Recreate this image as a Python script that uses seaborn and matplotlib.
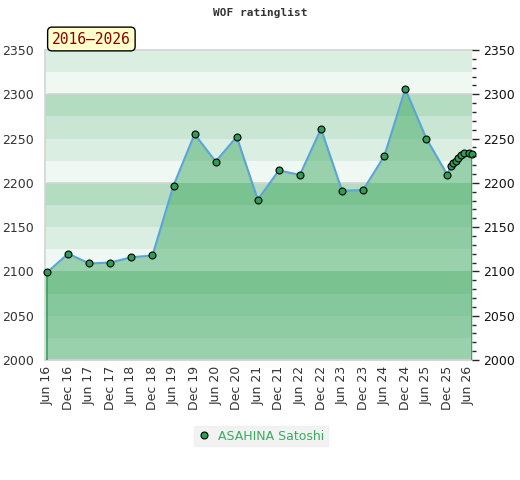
import matplotlib
matplotlib.use("Agg")
import matplotlib.pyplot as plt
import seaborn as sns
import pandas as pd
from matplotlib.lines import Line2D
from matplotlib.ticker import MultipleLocator

# months counted from Jun 2016
months = [0, 6, 12, 18, 24, 30, 36, 42, 48, 54, 60, 66, 72, 78, 84, 90, 96, 102, 108, 114,
          115, 115.6, 116.4, 117.1, 117.9, 118.7, 120.2, 121]
ratings = [2099, 2120, 2109, 2110, 2116, 2118, 2197, 2255, 2224, 2252, 2181, 2214, 2209, 2261,
           2191, 2192, 2230, 2306, 2250, 2209,
           2219, 2222, 2225, 2228, 2231, 2234, 2234, 2233]
tick_pos = list(range(0, 121, 6))
tick_labels = [("Jun " if i % 2 == 0 else "Dec ") + str(16 + i // 2) for i in range(len(tick_pos))]
player = "ASAHINA Satoshi"
period = "2016\u20132026"

df = pd.DataFrame({"month": months, "rating": ratings})

sns.set_style("white")
plt.rcParams['font.family'] = ['DejaVu Sans']

fig = plt.figure(figsize=(5.2, 4.8), dpi=100)
ax = fig.add_axes([45 / 520, 1 - 360 / 480, 427 / 520, 310 / 480])

band_colors = ["#eff8f2", "#dbeee2", "#c8e6d3", "#b3dcc0"]
for lo in range(2000, 2350, 25):
    ax.axhspan(lo, lo + 25, color=band_colors[(lo % 100) // 25], lw=0, zorder=0)

# grey lines only show above the rating curve
above = ax.fill_between(df["month"], df["rating"], 2350, color="none", lw=0)
for lv in range(2100, 2350, 100):
    gl = ax.axhline(lv, color="#d4d4d4", lw=1.2, zorder=1)
    gl.set_clip_path(above.get_paths()[0], transform=ax.transData)

ax.fill_between(df["month"], df["rating"], 2000, color="#3aa75d", alpha=0.47, lw=0, zorder=2)
ax.vlines([months[0], months[-1]], 2000, [ratings[0], ratings[-1]], color="#2e9e56", lw=1.2, zorder=3)
sns.lineplot(data=df, x="month", y="rating", ax=ax, color="#5ba3d9", lw=1.5, zorder=4,
             marker="o", markersize=5, markerfacecolor="#2e9e56", markeredgecolor="black",
             markeredgewidth=0.8, clip_on=False)

ax.set_xlim(-0.6, 121)
ax.set_ylim(2000, 2350)
ax.set_xlabel("")
ax.set_ylabel("")
ax.set_xticks(tick_pos)
ax.set_xticklabels(tick_labels, rotation=90, fontsize=9, color="#333333")
ax.yaxis.set_major_locator(MultipleLocator(50))
ax.tick_params(axis="y", length=0, labelsize=9, labelcolor="#333333", pad=8)
ax.tick_params(axis="x", length=0, pad=4)
for s in ["left", "top", "bottom"]:
    ax.spines[s].set_color("#d4d4d4")
    ax.spines[s].set_linewidth(1.2)
ax.spines["right"].set_visible(False)

ax2 = ax.twinx()
ax2.set_ylim(2000, 2350)
ax2.yaxis.set_major_locator(MultipleLocator(50))
ax2.yaxis.set_minor_locator(MultipleLocator(10))
ax2.tick_params(axis="y", which="major", length=5, width=1, labelsize=9, labelcolor="#111111", pad=3)
ax2.tick_params(axis="y", which="minor", length=3, width=1)
for s in ax2.spines.values():
    s.set_visible(False)

fig.text(0.5, 1 - 13 / 480, "WOF ratinglist", ha="center", va="center",
         family="DejaVu Sans Mono", fontweight="bold", fontsize=8, color="#333333")
fig.text(52 / 520, 1 - 39 / 480, period, ha="left", va="center", family="DejaVu Sans Mono",
         fontsize=10.5, color="#8b0000",
         bbox=dict(boxstyle="round,pad=0.3,rounding_size=0.3", facecolor="#ffffcc", edgecolor="black", lw=1))

handle = Line2D([], [], ls="none", marker="o", markersize=5, markerfacecolor="#2e9e56",
                markeredgecolor="black", markeredgewidth=0.8)
leg = fig.legend([handle], [player], loc="center", bbox_to_anchor=(261 / 520, 1 - 436 / 480),
                 frameon=True, fancybox=False, facecolor="#efefef", edgecolor="#efefef",
                 fontsize=9, handlelength=1, handletextpad=0.6, borderpad=0.3)
for t in leg.get_texts():
    t.set_color("#3aaa5f")

fig.savefig("out.png", dpi=100)
